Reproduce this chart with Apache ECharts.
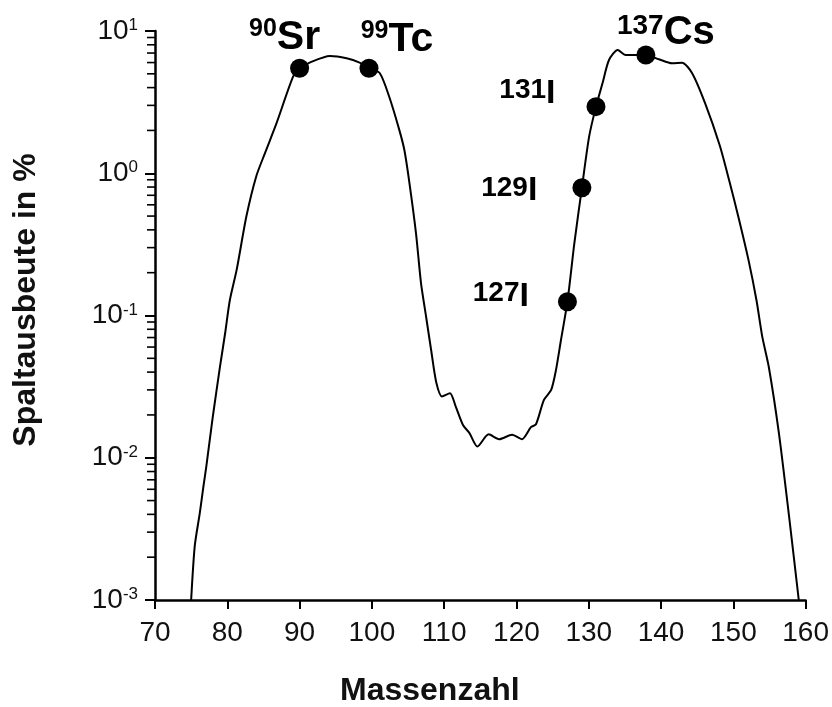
<!DOCTYPE html>
<html>
<head>
<meta charset="utf-8">
<script src="https://cdn.jsdelivr.net/npm/echarts@6/dist/echarts.min.js"></script>
<style>
html,body{margin:0;padding:0;background:#fff;}
#chart{width:832px;height:707px;}
</style>
</head>
<body>
<div id="chart"></div>
<script>
// ---- Data ----
const curveMass = [75.0, 75.5, 76.2, 76.7, 77.1, 78.0, 79.0, 79.7, 80.35, 81.3, 82.65, 84.0, 85.2, 86.8, 89.1, 90.0,
  91.4, 94.2, 96.5, 98.3, 99.7, 101.1, 102.4, 103.8, 104.5, 105.2, 106.1, 106.8, 107.5, 108.2, 108.9, 109.7,
  110.8, 111.6, 112.6, 113.5, 114.6, 116.15, 117.6, 119.4, 120.75, 122.0, 122.7, 123.8, 124.8, 125.45, 126.15,
  127.05, 128.0, 129.05, 130.05, 131.0, 131.9, 132.8, 134.0, 135.1, 137.9, 139.7, 141.5, 142.9, 144.3, 146.1,
  148.1, 149.4, 150.8, 152.1, 153.2, 154.0, 154.9, 156.3, 157.7, 159.05];
const curveYield = [0.001, 0.0024, 0.0041, 0.0063, 0.0087, 0.0195, 0.044, 0.075, 0.128, 0.21, 0.50, 0.95, 1.38, 2.24, 4.77, 5.47,
  6.0, 6.67, 6.43, 6.0, 5.47, 5.05, 3.45, 2.01, 1.45, 0.85, 0.38, 0.168, 0.098, 0.057, 0.034, 0.027,
  0.0284, 0.0229, 0.017, 0.0149, 0.0120, 0.0146, 0.0135, 0.0145, 0.0135, 0.0164, 0.0172, 0.0255, 0.030, 0.041, 0.067,
  0.125, 0.32, 0.79, 1.81, 2.94, 4.29, 6.25, 7.35, 6.78, 6.78, 6.33, 5.93, 5.99, 5.05, 3.1,
  1.58, 0.90, 0.47, 0.245, 0.128, 0.071, 0.0436, 0.0149, 0.0039, 0.001];

const nuclideIsotope = ['90', '99', '137', '131', '129', '127'];
const nuclideElement = ['Sr', 'Tc', 'Cs', 'I', 'I', 'I'];
const nuclideMass = [90.0, 99.6, 137.9, 131.0, 129.05, 127.05];
const nuclideYield = [5.47, 5.47, 6.78, 2.94, 0.79, 0.125];

const xTickValues = [70, 80, 90, 100, 110, 120, 130, 140, 150, 160];
const yTickExponents = [-3, -2, -1, 0, 1];
const yMinorTickValues = [
  0.002, 0.003, 0.004, 0.005, 0.006, 0.007, 0.008, 0.009,
  0.02, 0.03, 0.04, 0.05, 0.06, 0.07, 0.08, 0.09,
  0.2, 0.3, 0.4, 0.5, 0.6, 0.7, 0.8, 0.9,
  2, 3, 4, 5, 6, 7, 8, 9
];

const xAxisTitle = 'Massenzahl';
const yAxisTitle = 'Spaltausbeute in %';

// ---- Styles / layout (separate from data) ----
const FONT = '"Liberation Sans", Arial, Helvetica, sans-serif';
const labelLayout = [
  {position: 'top', offset: [-15, -1], supSize: 25, supLH: 23, bigSize: 41},
  {position: 'top', offset: [28, 1], supSize: 25, supLH: 21, bigSize: 41},
  {position: 'top', offset: [20, 7], supSize: 28, supLH: 19, bigSize: 40},
  {position: 'left', offset: [-31, -13], supSize: 28, supLH: 11, bigSize: 34},
  {position: 'left', offset: [-35, 3], supSize: 28, supLH: 11, bigSize: 34},
  {position: 'left', offset: [-29, -5], supSize: 28, supLH: 11, bigSize: 34}
];

const curveData = curveMass.map((m, i) => [m, curveYield[i]]);
const pointData = nuclideMass.map((m, i) => {
  const L = labelLayout[i];
  return {
    value: [m, nuclideYield[i]],
    label: {
      show: true,
      position: L.position,
      distance: 0,
      offset: L.offset,
      formatter: '{s|' + nuclideIsotope[i] + '}{b|' + nuclideElement[i] + '}',
      rich: {
        s: {fontSize: L.supSize, fontWeight: 'bold', fontFamily: FONT, color: '#000', lineHeight: L.supLH, verticalAlign: 'top'},
        b: {fontSize: L.bigSize, fontWeight: 'bold', fontFamily: FONT, color: '#000', lineHeight: L.bigSize, verticalAlign: 'bottom'}
      }
    }
  };
});
const minorTickData = yMinorTickValues.map(v => [xTickValues[0], v]);

const chart = echarts.init(document.getElementById('chart'), null, {renderer: 'canvas'});
chart.setOption({
  animation: false,
  backgroundColor: '#fff',
  grid: {left: 155, right: 25, top: 31, bottom: 107, containLabel: false},
  xAxis: {
    type: 'value',
    min: xTickValues[0],
    max: xTickValues[xTickValues.length - 1],
    interval: 10,
    axisLine: {show: true, lineStyle: {color: '#000', width: 2.5}},
    axisTick: {show: true, inside: false, length: 9, lineStyle: {color: '#000', width: 2}},
    axisLabel: {show: true, margin: 19, fontSize: 28, fontFamily: FONT, color: '#111'},
    splitLine: {show: false}
  },
  yAxis: {
    type: 'log',
    logBase: 10,
    min: Math.pow(10, yTickExponents[0]),
    max: Math.pow(10, yTickExponents[yTickExponents.length - 1]),
    axisLine: {show: true, onZero: false, lineStyle: {color: '#000', width: 2.5}},
    axisTick: {show: true, inside: false, length: 10, lineStyle: {color: '#000', width: 2}},
    minorTick: {show: false},
    axisLabel: {
      show: true,
      margin: 17,
      formatter: function (v) {
        const e = Math.round(Math.log10(v));
        return '{b|10}{s|' + e + '}';
      },
      rich: {
        b: {fontSize: 28, fontFamily: FONT, color: '#111', lineHeight: 28},
        s: {fontSize: 17, fontFamily: FONT, color: '#111', lineHeight: 10, verticalAlign: 'top'}
      }
    },
    splitLine: {show: false},
    minorSplitLine: {show: false}
  },
  graphic: [
    {type: 'text', left: 340, top: 675, style: {text: xAxisTitle, font: 'bold 32px ' + FONT, fill: '#111'}},
    {type: 'text', x: 26, y: 300, rotation: Math.PI / 2,
      style: {text: yAxisTitle, font: 'bold 32px ' + FONT, fill: '#111', align: 'center', verticalAlign: 'middle'}}
  ],
  series: [
    {
      type: 'custom',
      clip: false,
      silent: true,
      data: minorTickData,
      renderItem: function (params, api) {
        const p = api.coord([api.value(0), api.value(1)]);
        return {
          type: 'line',
          shape: {x1: p[0] - 8, y1: p[1], x2: p[0], y2: p[1]},
          style: {stroke: '#000', lineWidth: 1.6}
        };
      },
      z: 1
    },
    {
      type: 'line',
      data: curveData,
      smooth: 0.25,
      showSymbol: false,
      symbol: 'none',
      lineStyle: {color: '#000', width: 2},
      z: 2
    },
    {
      type: 'scatter',
      data: pointData,
      symbol: 'circle',
      symbolSize: 19,
      itemStyle: {color: '#000', opacity: 1},
      z: 3
    }
  ]
});
</script>
</body>
</html>
